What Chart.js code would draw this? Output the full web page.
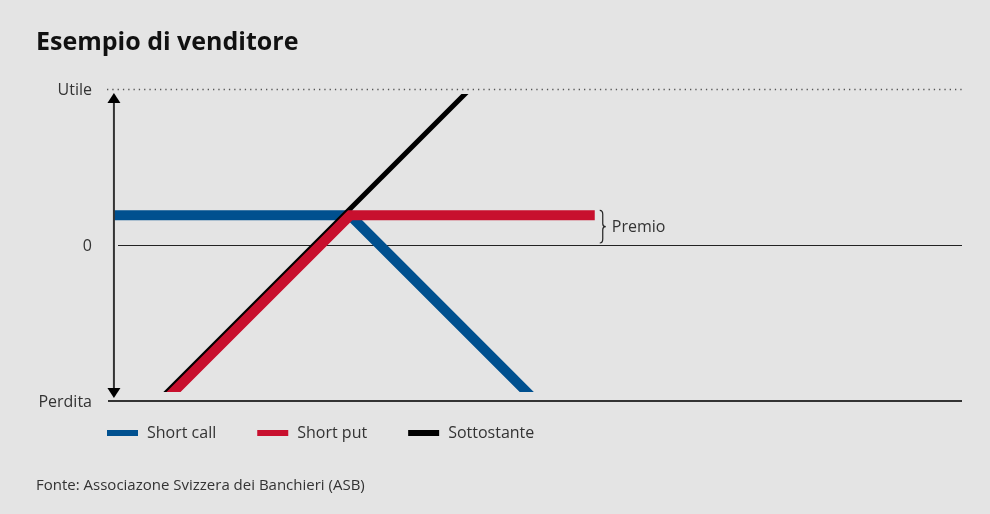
<!DOCTYPE html>
<html>
<head>
<meta charset="utf-8">
<script src="https://cdn.jsdelivr.net/npm/chart.js@4.4.1/dist/chart.umd.min.js"></script>
<style>
  html, body { margin: 0; padding: 0; background: #e4e4e4; }
  #wrap { width: 990px; height: 514px; }
</style>
</head>
<body>
<div id="wrap"><canvas id="payoff"></canvas></div>
<script>
// payoff profiles (x = price of the underlying, y = result)
var seriesNames = ['Short call', 'Short put', 'Sottostante'];
var seriesColors = ['#00508f', '#c8102e', '#000000'];
var shortCallX = [0.19, 7.76, 14.26];
var shortCallY = [0.95, 0.95, -5.55];
var shortPutX = [1.26, 7.76, 15.6];
var shortPutY = [-5.55, 0.95, 0.95];
var underlyingX = [1.1, 12.0];
var underlyingY = [-5.5, 5.4];
var tickValues = [-5, 0, 5];
var tickLabels = ['Perdita', '0', 'Utile'];
var premioLabel = 'Premio';

function toPoints(xs, ys) {
    return xs.map(function (x, i) { return { x: x, y: ys[i] }; });
}

Chart.defaults.font.family = "'Open Sans', 'Noto Sans', sans-serif";
Chart.defaults.color = '#333';

// extra drawing: reference lines, double arrow, premium brace, legend
var decorations = {
    id: 'decorations',
    beforeDatasetsDraw: function (chart) {
        var ctx = chart.ctx, x = chart.scales.x, y = chart.scales.y;
        var a = chart.chartArea;
        ctx.save();
        // dotted line at "Utile"
        ctx.strokeStyle = '#555';
        ctx.lineWidth = 1.3;
        ctx.setLineDash([1.3, 4]);
        ctx.beginPath();
        ctx.moveTo(a.left - 1, y.getPixelForValue(5) + 0.5);
        ctx.lineTo(a.right, y.getPixelForValue(5) + 0.5);
        ctx.stroke();
        ctx.setLineDash([]);
        // zero line
        ctx.strokeStyle = '#222';
        ctx.lineWidth = 1;
        ctx.beginPath();
        ctx.moveTo(a.left + 10, y.getPixelForValue(0) + 0.5);
        ctx.lineTo(a.right, y.getPixelForValue(0) + 0.5);
        ctx.stroke();
        ctx.restore();
    },
    afterDatasetsDraw: function (chart) {
        var ctx = chart.ctx, x = chart.scales.x, y = chart.scales.y;
        var a = chart.chartArea;
        ctx.save();
        // bottom line at "Perdita"
        ctx.strokeStyle = '#333';
        ctx.lineWidth = 2;
        ctx.beginPath();
        ctx.moveTo(a.left, y.getPixelForValue(-5));
        ctx.lineTo(a.right, y.getPixelForValue(-5));
        ctx.stroke();

        // double arrow
        var ax = x.getPixelForValue(0.19);
        var top = y.getPixelForValue(5) + 4;
        var bot = y.getPixelForValue(-5) - 3;
        ctx.strokeStyle = '#333';
        ctx.fillStyle = '#000';
        ctx.beginPath();
        ctx.moveTo(ax, top + 8);
        ctx.lineTo(ax, bot - 8);
        ctx.stroke();
        ctx.beginPath();
        ctx.moveTo(ax, top);
        ctx.lineTo(ax - 6.5, top + 10);
        ctx.lineTo(ax + 6.5, top + 10);
        ctx.closePath();
        ctx.fill();
        ctx.beginPath();
        ctx.moveTo(ax, bot);
        ctx.lineTo(ax - 6.5, bot - 10);
        ctx.lineTo(ax + 6.5, bot - 10);
        ctx.closePath();
        ctx.fill();

        // premium brace
        var bx = x.getPixelForValue(shortPutX[2]) + 5;
        var by1 = y.getPixelForValue(shortPutY[2]) - 5;
        var by2 = y.getPixelForValue(0) - 2;
        var mid = (by1 + by2) / 2;
        ctx.strokeStyle = '#222';
        ctx.lineWidth = 1.2;
        ctx.beginPath();
        ctx.moveTo(bx, by1);
        ctx.quadraticCurveTo(bx + 3, by1, bx + 3, by1 + 4);
        ctx.lineTo(bx + 3, mid - 3);
        ctx.quadraticCurveTo(bx + 3, mid, bx + 6, mid);
        ctx.quadraticCurveTo(bx + 3, mid, bx + 3, mid + 3);
        ctx.lineTo(bx + 3, by2 - 4);
        ctx.quadraticCurveTo(bx + 3, by2, bx, by2);
        ctx.stroke();
        ctx.font = "16px 'Open Sans', 'Noto Sans', sans-serif";
        ctx.fillStyle = '#333';
        ctx.textBaseline = 'middle';
        ctx.fillText(premioLabel, bx + 12, mid + 1);

        // legend row
        var lx = a.left - 1;
        var ly = a.bottom + 32;
        chart.data.datasets.forEach(function (ds) {
            ctx.fillStyle = ds.borderColor;
            ctx.fillRect(lx, ly - 3, 31, 6);
            lx += 31 + 9;
            ctx.fillStyle = '#333';
            ctx.fillText(ds.label, lx, ly);
            lx += ctx.measureText(ds.label).width + 41;
        });
        ctx.restore();
    }
};

var lineStyle = {
    fill: false,
    pointRadius: 0,
    tension: 0,
    borderCapStyle: 'butt',
    borderJoinStyle: 'miter',
    clip: { left: 0, top: -5, right: 0, bottom: -9 }
};

new Chart(document.getElementById('payoff'), {
    type: 'line',
    data: {
        datasets: [
            Object.assign({
                label: seriesNames[0],
                data: toPoints(shortCallX, shortCallY),
                borderColor: seriesColors[0],
                backgroundColor: seriesColors[0],
                borderWidth: 10,
                order: 3
            }, lineStyle),
            Object.assign({
                label: seriesNames[1],
                data: toPoints(shortPutX, shortPutY),
                borderColor: seriesColors[1],
                backgroundColor: seriesColors[1],
                borderWidth: 10,
                order: 1
            }, lineStyle),
            Object.assign({
                label: seriesNames[2],
                data: toPoints(underlyingX, underlyingY),
                borderColor: seriesColors[2],
                backgroundColor: seriesColors[2],
                borderWidth: 5,
                order: 2
            }, lineStyle)
        ]
    },
    options: {
        responsive: true,
        maintainAspectRatio: false,
        animation: false,
        layout: { padding: { top: 28, left: 36, right: 28, bottom: 10 } },
        plugins: {
            legend: { display: false },
            tooltip: { enabled: false },
            title: {
                display: true,
                text: 'Esempio di venditore',
                align: 'start',
                color: '#111',
                font: { size: 25, weight: 'bold' },
                padding: { top: 0, bottom: 31 }
            },
            subtitle: {
                display: true,
                position: 'bottom',
                text: 'Fonte: Associazone Svizzera dei Banchieri (ASB)',
                align: 'start',
                color: '#333',
                font: { size: 15 },
                padding: { top: 76, bottom: 9 }
            }
        },
        scales: {
            x: {
                type: 'linear',
                display: false,
                min: 0,
                max: 27.37
            },
            y: {
                type: 'linear',
                min: -5,
                max: 5,
                grid: { display: false, drawTicks: false },
                border: { display: false },
                afterBuildTicks: function (axis) {
                    axis.ticks = tickValues.map(function (v) { return { value: v }; });
                },
                afterFit: function (axis) { axis.width = 72; },
                ticks: {
                    padding: 16,
                    color: '#333',
                    font: { size: 16 },
                    labelOffset: 1,
                    callback: function (value) {
                        return tickLabels[tickValues.indexOf(value)];
                    }
                }
            }
        }
    },
    plugins: [decorations]
});
</script>
</body>
</html>
